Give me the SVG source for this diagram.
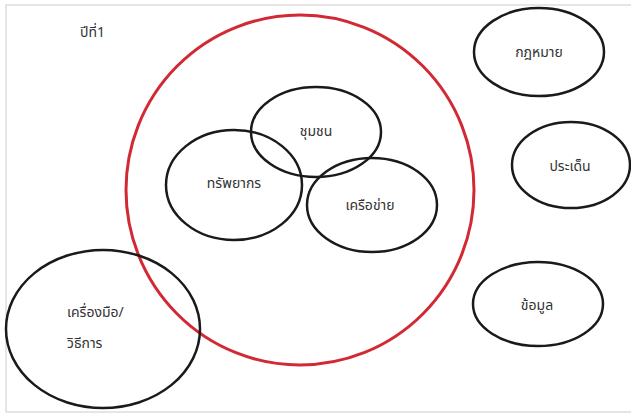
<svg xmlns="http://www.w3.org/2000/svg" width="631" height="414" viewBox="0 0 631 414">
<style>
.n{fill:none;stroke:#1a1a1a;stroke-width:2.5}
.r{fill:none;stroke:#d22a35;stroke-width:3}
text{font-family:"Noto Sans Thai","Noto Sans","Liberation Sans",sans-serif;font-size:14px;fill:#333}
.c{text-anchor:middle;dominant-baseline:central}
</style>
<rect x="0" y="0" width="631" height="414" fill="#fff"/>
<rect x="6" y="5" width="630" height="407" fill="none" stroke="#ddd" stroke-width="1.5"/>
<g id="year"><text x="80" y="37">ปีที่1</text></g>
<g id="main"><ellipse class="r" cx="300" cy="190" rx="174" ry="175"/></g>
<g id="community"><ellipse class="n" cx="316" cy="132" rx="65" ry="45"/><text class="c" x="316" y="131">ชุมชน</text></g>
<g id="resources"><ellipse class="n" cx="234" cy="185" rx="68" ry="55"/><text class="c" x="234" y="183">ทรัพยากร</text></g>
<g id="network"><ellipse class="n" cx="372" cy="205" rx="65" ry="47"/><text class="c" x="370" y="205">เครือข่าย</text></g>
<g id="tools"><ellipse class="n" cx="103" cy="329" rx="97" ry="79"/><text x="67" y="317">เครื่องมือ/</text><text x="67" y="348">วิธีการ</text></g>
<g id="law"><ellipse class="n" cx="539" cy="52" rx="65" ry="44"/><text class="c" x="539" y="52">กฎหมาย</text></g>
<g id="issue"><ellipse class="n" cx="571" cy="165" rx="59" ry="43"/><text class="c" x="570" y="166">ประเด็น</text></g>
<g id="data"><ellipse class="n" cx="538" cy="304" rx="65" ry="42"/><text class="c" x="537" y="305">ข้อมูล</text></g>
<g id="connectors"></g>
</svg>
